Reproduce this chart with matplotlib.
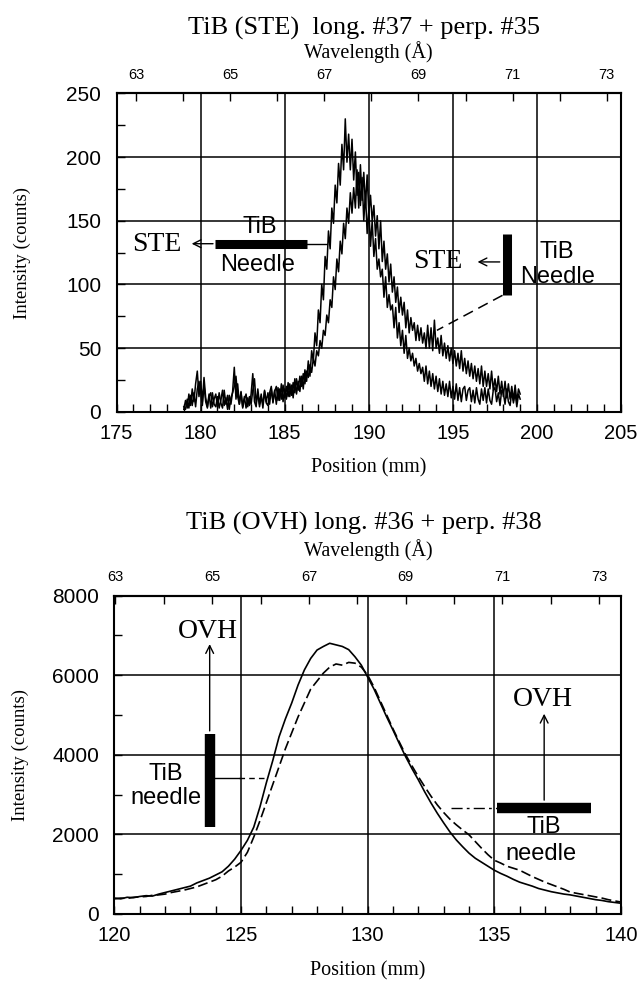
import numpy as np
import matplotlib.pyplot as plt
from matplotlib.ticker import MultipleLocator, FixedLocator, NullFormatter

SERIF = 'Liberation Serif'
SANS = 'Liberation Sans'
plt.rcParams['font.family'] = SANS

# ---- TiB (STE): intensity (counts), 179.0 .. 199.0 mm in 0.1 mm steps
ste_long = [
    2, 9, 3, 14, 5, 18, 8, 22, 32, 12,
    24, 8, 27, 11, 4, 14, 3, 15, 6, 4,
    12, 3, 9, 17, 5, 11, 2, 13, 6, 16,
    35, 10, 22, 6, 16, 4, 12, 3, 11, 5,
    14, 30, 8, 4, 18, 6, 14, 3, 16, 7,
    5, 15, 20, 7, 17, 6, 19, 9, 22, 8,
    18, 10, 23, 12, 21, 11, 26, 14, 24, 16,
    28, 18, 33, 24, 40, 28, 48, 40, 62, 52,
    80, 70, 100, 88, 122, 112, 142, 128, 160, 148,
    178, 164, 195, 178, 210, 190, 230, 196, 218, 190,
    214, 182, 204, 170, 188, 162, 184, 150, 172, 140,
    160, 130, 150, 122, 136, 112, 120, 106, 112, 90,
    106, 82, 92, 80, 84, 66, 82, 58, 70, 52,
    64, 46, 60, 42, 50, 40, 46, 36, 42, 32,
    38, 30, 35, 24, 36, 22, 32, 20, 30, 18,
    28, 16, 26, 14, 24, 13, 22, 12, 24, 11,
    20, 10, 22, 9, 19, 8, 18, 20, 9, 17,
    19, 8, 17, 7, 19, 10, 6, 18, 9, 19,
    7, 18, 9, 6, 17, 19, 8, 15, 5, 17,
    15, 6, 18, 8, 5, 16, 7, 15, 4, 14,
    10,
]
ste_perp = [
    4, 2, 10, 3, 13, 5, 15, 4, 18, 24,
    16, 5, 21, 8, 3, 12, 15, 4, 10, 14,
    4, 15, 7, 3, 17, 6, 13, 2, 11, 15,
    20, 28, 12, 6, 15, 3, 10, 14, 4, 12,
    6, 17, 26, 7, 15, 4, 12, 6, 17, 8,
    15, 6, 18, 8, 16, 20, 9, 18, 10, 21,
    11, 20, 12, 22, 13, 23, 15, 26, 17, 28,
    20, 30, 22, 32, 27, 37, 31, 42, 36, 48,
    44, 56, 50, 64, 60, 76, 70, 88, 82, 106,
    96, 120, 110, 134, 124, 148, 136, 160, 148, 172,
    156, 176, 160, 190, 160, 194, 166, 188, 162, 186,
    156, 170, 150, 162, 138, 154, 128, 150, 118, 134,
    112, 124, 102, 116, 94, 106, 86, 98, 78, 90,
    76, 86, 66, 80, 62, 74, 64, 70, 56, 68,
    56, 66, 54, 62, 50, 68, 50, 66, 48, 72,
    50, 58, 46, 60, 44, 54, 42, 52, 40, 50,
    38, 48, 36, 46, 34, 48, 32, 42, 30, 40,
    28, 38, 26, 36, 24, 34, 22, 36, 20, 32,
    20, 30, 18, 32, 17, 26, 16, 28, 14, 24,
    12, 24, 11, 22, 10, 20, 9, 21, 8, 18,
    14,
]
ste_pos = np.round(np.arange(179.0, 199.05, 0.1), 2)

# ---- TiB (OVH): intensity (counts), 120 .. 140 mm in 0.25 mm steps
ovh_long = [
    400, 380, 420, 410,
    440, 460, 450, 500,
    540, 580, 620, 660,
    700, 780, 840, 900,
    980, 1060, 1200, 1380,
    1600, 1850, 2180, 2700,
    3300, 3850, 4450, 4900,
    5300, 5750, 6130, 6420,
    6630, 6720, 6800, 6760,
    6720, 6640, 6460, 6250,
    5950, 5650, 5300, 4950,
    4620, 4280, 3950, 3650,
    3370, 3070, 2790, 2530,
    2290, 2060, 1860, 1690,
    1530, 1400, 1300, 1200,
    1100, 1020, 950, 870,
    800, 750, 700, 640,
    600, 560, 530, 500,
    480, 450, 420, 390,
    360, 340, 310, 290,
    270,
]
ovh_perp = [
    380, 400, 390, 420,
    430, 440, 470, 480,
    500, 540, 570, 600,
    640, 680, 740, 800,
    860, 950, 1080, 1180,
    1300, 1550, 1930, 2350,
    2800, 3250, 3700, 4150,
    4550, 4950, 5300, 5650,
    5850, 6050, 6200, 6280,
    6250, 6320, 6300, 6200,
    6000, 5700, 5350, 5000,
    4650, 4320, 4000, 3720,
    3450, 3200, 2960, 2740,
    2550, 2380, 2240, 2110,
    1990, 1820, 1650, 1490,
    1350, 1280, 1200, 1150,
    1100, 1020, 940, 870,
    800, 740, 680, 620,
    550, 520, 490, 460,
    430, 400, 360, 330,
    300,
]
ovh_pos = np.arange(120.0, 140.01, 0.25)

wl_labels = [63, 65, 67, 69, 71, 73]
wl_minor = list(range(63, 74))


def style_axes(ax, xlim, ylim, xmaj, ymaj, xmin, ymin, ylab_x):
    ax.set_xlim(*xlim)
    ax.set_ylim(*ylim)
    ax.xaxis.set_major_locator(MultipleLocator(xmaj))
    ax.yaxis.set_major_locator(MultipleLocator(ymaj))
    ax.xaxis.set_minor_locator(MultipleLocator(xmin))
    ax.yaxis.set_minor_locator(MultipleLocator(ymin))
    ax.grid(which='major', color='black', lw=1.1)
    ax.tick_params(which='both', direction='in', top=False, right=False,
                   length=6, width=1)
    ax.tick_params(axis='x', pad=9, labelsize=14.5)
    ax.tick_params(axis='y', pad=11, labelsize=15)
    for s in ax.spines.values():
        s.set_linewidth(1.5)
    ax.set_xlabel('Position (mm)', family=SERIF, fontsize=14.5, labelpad=11)
    ax.set_ylabel('Intensity (counts)', family=SERIF, fontsize=13.5)
    ax.yaxis.set_label_coords(ylab_x, 0.5)


def wavelength_axis(ax, p0, mm_per_a):
    sec = ax.secondary_xaxis('top', functions=(lambda p: 63 + (p - p0) / mm_per_a,
                                               lambda w: p0 + (w - 63) * mm_per_a))
    sec.xaxis.set_major_locator(FixedLocator(wl_labels))
    sec.xaxis.set_minor_locator(FixedLocator(wl_minor))
    sec.xaxis.set_minor_formatter(NullFormatter())
    sec.tick_params(which='both', direction='in', length=6, width=1,
                    labelsize=10.5, pad=8)
    sec.spines['top'].set_linewidth(1.5)
    return sec


fig = plt.figure(figsize=(6.37, 9.83), dpi=100)

# ------------------------------------------------------------ top panel
ax1 = fig.add_axes([0.183, 0.581, 0.792, 0.324])
ax1.plot(ste_pos, ste_perp, color='black', lw=1.1)
ax1.plot(ste_pos, ste_long, color='black', lw=1.1)
style_axes(ax1, (175, 205), (0, 250), 5, 50, 1, 25, -0.17)
wavelength_axis(ax1, 176.15, 2.8)

fig.text(0.572, 0.971, 'TiB (STE)  long. #37 + perp. #35', family=SERIF,
         fontsize=19, ha='center', va='center')
fig.text(0.578, 0.947, 'Wavelength (Å)', family=SERIF, fontsize=14.5,
         ha='center', va='center')

# long. needle (horizontal bar)
ax1.plot([180.86, 186.32], [132, 132], color='black', lw=6.5, solid_capstyle='butt')
ax1.plot([186.32, 187.5], [132, 132], color='black', lw=1)
ax1.annotate('', xy=(179.3, 132), xytext=(180.9, 132),
             arrowprops=dict(arrowstyle='->', lw=1, color='black', mutation_scale=14))
ax1.text(177.4, 131, 'STE', family=SERIF, fontsize=20, ha='center', va='center')
ax1.text(183.5, 145, 'TiB', fontsize=17, ha='center', va='center')
ax1.text(183.4, 115, 'Needle', fontsize=17, ha='center', va='center')

# perp. needle (vertical bar)
ax1.plot([198.2, 198.2], [91.5, 140], color='black', lw=6.5, solid_capstyle='butt')
ax1.annotate('', xy=(196.3, 117.7), xytext=(197.95, 117.7),
             arrowprops=dict(arrowstyle='->', lw=1, color='black', mutation_scale=14))
ax1.plot([197.95, 194.05], [91.5, 64], color='black', lw=1.1, ls=(0, (7, 4)))
ax1.text(194.1, 117.7, 'STE', family=SERIF, fontsize=20, ha='center', va='center')
ax1.text(201.2, 125.6, 'TiB', fontsize=17, ha='center', va='center')
ax1.text(201.2, 106, 'Needle', fontsize=17, ha='center', va='center')

# ------------------------------------------------------------ bottom panel
ax2 = fig.add_axes([0.1797, 0.0702, 0.795, 0.324])
ax2.plot(ovh_pos, ovh_long, color='black', lw=1.2)
ax2.plot(ovh_pos, ovh_perp, color='black', lw=1.2, ls=(0, (6, 2.5)))
style_axes(ax2, (120, 140), (0, 8000), 5, 2000, 1, 1000, -0.168)
wavelength_axis(ax2, 120.04, 1.91)

fig.text(0.572, 0.467, 'TiB (OVH) long. #36 + perp. #38', family=SERIF,
         fontsize=19, ha='center', va='center')
fig.text(0.578, 0.440, 'Wavelength (Å)', family=SERIF, fontsize=14.5,
         ha='center', va='center')

# long. needle (vertical bar) left
ax2.plot([123.76, 123.76], [2195, 4530], color='black', lw=7.5, solid_capstyle='butt')
ax2.annotate('', xy=(123.76, 6850), xytext=(123.76, 4530),
             arrowprops=dict(arrowstyle='->', lw=1, color='black', mutation_scale=14))
ax2.plot([123.9, 124.9], [3425, 3425], color='black', lw=1)
ax2.plot([124.9, 126.0], [3425, 3425], color='black', lw=1, ls=(0, (4, 3)))
ax2.text(123.7, 7100, 'OVH', family=SERIF, fontsize=20, ha='center', va='center')
ax2.text(122.03, 3510, 'TiB', fontsize=17, ha='center', va='center')
ax2.text(122.03, 2920, 'needle', fontsize=17, ha='center', va='center')

# perp. needle (horizontal bar) right
ax2.plot([135.1, 138.83], [2660, 2660], color='black', lw=7.5, solid_capstyle='butt')
ax2.annotate('', xy=(136.97, 5100), xytext=(136.97, 2790),
             arrowprops=dict(arrowstyle='->', lw=1, color='black', mutation_scale=14))
ax2.plot([133.3, 135.1], [2660, 2660], color='black', lw=1, ls=(0, (8, 3, 2, 3)))
ax2.text(136.9, 5380, 'OVH', family=SERIF, fontsize=20, ha='center', va='center')
ax2.text(136.96, 2195, 'TiB', fontsize=17, ha='center', va='center')
ax2.text(136.84, 1515, 'needle', fontsize=17, ha='center', va='center')

fig.savefig('out.png', dpi=100)
